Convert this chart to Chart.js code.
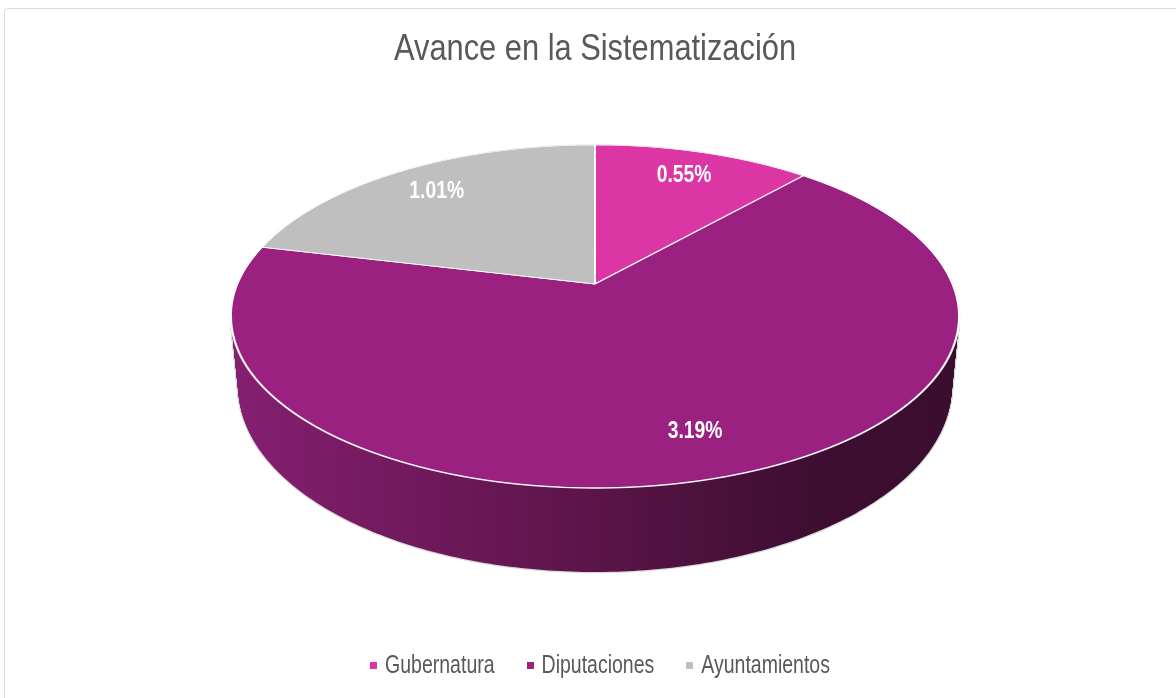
<!DOCTYPE html>
<html><head><meta charset="utf-8">
<script src="https://cdn.jsdelivr.net/npm/chart.js@4.4.1/dist/chart.umd.min.js"></script>
<style>
html,body{margin:0;padding:0;background:#fff;overflow:hidden}
#wrap{position:relative;width:1176px;height:698px;overflow:hidden}
#frame{position:absolute;left:4px;top:8px;width:1300px;height:800px;border:1.5px solid #d9d9d9;border-radius:4px}
canvas{position:absolute;left:0;top:0}
</style></head><body>
<div id="wrap"><div id="frame"></div><canvas id="c" width="1176" height="698"></canvas></div>
<script>
const titleText = 'Avance en la Sistematización';
const categories = ['Gubernatura', 'Diputaciones', 'Ayuntamientos'];
const values = [0.55, 3.19, 1.01];
const sliceColors = ['#DB36A3', '#9B2180', '#BFBFBF'];

const FONT = "'Liberation Sans', Arial, sans-serif";

// perspective view of the pie (screen geometry of the 3D look)
const VIEW = { cx: 595, apexY: 284, topY: 145, frontY: 488, halfWidth: 364, depth: 84, shrink: 0.02, labelR: 0.8 };
const PC = (VIEW.topY + VIEW.frontY - 2 * VIEW.apexY) / (VIEW.topY - VIEW.frontY);
const PA = VIEW.frontY - VIEW.apexY + VIEW.frontY * PC;
const PB = VIEW.apexY;
const PK = VIEW.halfWidth * Math.sqrt(1 - PC * PC);
const PH = VIEW.depth * (1 + PC);

function proj(u, v, t) {
  const w = 1 + PC * v;
  return [VIEW.cx + PK * u / w * (1 - VIEW.shrink * t), (PA * v + PB) / w + t * PH / w];
}

function sidePath(ctx, arc, t, withCenter) {
  const a0 = arc.startAngle, a1 = arc.endAngle;
  const n = Math.max(2, Math.ceil((a1 - a0) / (Math.PI / 240)));
  ctx.beginPath();
  if (withCenter) { const p = proj(0, 0, t); ctx.moveTo(p[0], p[1]); }
  for (let i = 0; i <= n; i++) {
    const a = a0 + (a1 - a0) * i / n;
    const p = proj(Math.cos(a), Math.sin(a), t);
    if (i === 0 && !withCenter) ctx.moveTo(p[0], p[1]); else ctx.lineTo(p[0], p[1]);
  }
  if (withCenter) ctx.closePath();
}

function narrowText(ctx, text, x, y, squeeze, align) {
  ctx.save();
  ctx.translate(x, y);
  ctx.scale(squeeze, 1);
  ctx.textAlign = align;
  ctx.fillText(text, 0, 0);
  ctx.restore();
}

const pie3d = {
  id: 'pie3d',
  beforeDatasetsDraw(chart) {
    const ctx = chart.ctx;
    const arcs = chart.getDatasetMeta(0).data;
    if (!arcs.length) return false;
    const ref = arcs[0];
    const R = ref.outerRadius;
    const D = VIEW.depth;
    ctx.save();
    ctx.strokeStyle = '#d9d9d9';
    ctx.lineWidth = 2.5;
    for (let d = D; d >= 1; d--) {
      arcs.forEach(arc => { sidePath(ctx, arc, d / D, false); ctx.stroke(); });
    }
    const g = ctx.createLinearGradient(VIEW.cx - VIEW.halfWidth, 0, VIEW.cx + VIEW.halfWidth, 0);
    g.addColorStop(0, '#861f71');
    g.addColorStop(0.5, '#5b1448');
    g.addColorStop(0.78, '#3f0e33');
    g.addColorStop(1, '#3a0d2e');
    ctx.fillStyle = g;
    for (let d = D; d >= 1; d--) {
      arcs.forEach(arc => { sidePath(ctx, arc, d / D, true); ctx.fill(); });
    }
    ctx.restore();
    for (let y = Math.floor(VIEW.topY) - 3; y <= Math.ceil(VIEW.frontY) + 3; y++) {
      const yc = y + 0.5;
      const v0 = (PB - yc) / (PC * yc - PA);
      if (Math.abs(v0) > 1.06) continue;
      const w0 = 1 + PC * v0;
      const sx = PK / (R * w0);
      const sy = (PA - PC * PB) / (w0 * w0) / R;
      ctx.save();
      ctx.beginPath();
      ctx.rect(0, y, chart.width, 1);
      ctx.clip();
      ctx.translate(VIEW.cx, yc);
      ctx.scale(sx, sy);
      ctx.translate(-ref.x, -(ref.y + R * v0));
      arcs.forEach(arc => arc.draw(ctx));
      ctx.restore();
    }
    return false;
  },
  afterDraw(chart) {
    const ctx = chart.ctx;
    const arcs = chart.getDatasetMeta(0).data;
    ctx.save();
    // slice value labels
    ctx.font = 'bold 23px ' + FONT;
    ctx.fillStyle = '#ffffff';
    ctx.textBaseline = 'middle';
    arcs.forEach((arc, i) => {
      const mid = (arc.startAngle + arc.endAngle) / 2;
      const p = proj(Math.cos(mid) * VIEW.labelR, Math.sin(mid) * VIEW.labelR, 0);
      narrowText(ctx, values[i].toFixed(2) + '%', p[0], p[1], 0.84, 'center');
    });
    // title
    ctx.textBaseline = 'alphabetic';
    ctx.fillStyle = '#595959';
    ctx.font = '37px ' + FONT;
    narrowText(ctx, titleText, 595, 60, 0.833, 'center');
    // legend
    ctx.font = '25px ' + FONT;
    const sq = 0.78, box = 7, gapBT = 8, gapItems = 32;
    const widths = categories.map(c => ctx.measureText(c).width * sq);
    const total = widths.reduce((s, w) => s + w + box + gapBT, 0) + gapItems * (categories.length - 1);
    let x = 600 - total / 2;
    categories.forEach((c, i) => {
      ctx.fillStyle = sliceColors[i];
      ctx.fillRect(Math.round(x), 662, box, box);
      ctx.fillStyle = '#595959';
      narrowText(ctx, c, x + box + gapBT, 673, sq, 'left');
      x += box + gapBT + widths[i] + gapItems;
    });
    ctx.restore();
  }
};

new Chart(document.getElementById('c'), {
  type: 'pie',
  data: {
    labels: categories,
    datasets: [{ data: values, backgroundColor: sliceColors, borderColor: '#ffffff', borderWidth: 2, radius: 364 }]
  },
  options: {
    responsive: false,
    animation: false,
    events: [],
    plugins: {
      title: { display: false },
      legend: { display: false },
      tooltip: { enabled: false }
    }
  },
  plugins: [pie3d]
});
</script>
</body></html>
